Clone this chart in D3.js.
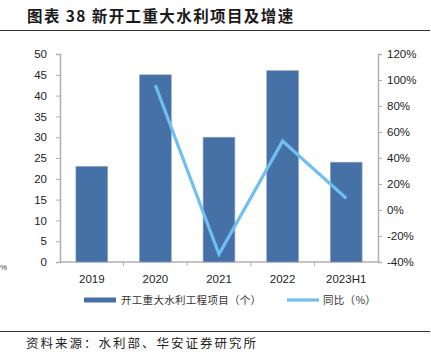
<!DOCTYPE html>
<html><head><meta charset="utf-8">
<script src="https://cdn.jsdelivr.net/npm/d3@7"></script>
<style>
html,body{margin:0;padding:0;background:#fff;}
svg{display:block;}
</style></head>
<body>
<script>
const categories = ["2019","2020","2021","2022","2023H1"];
const projects = [23, 45, 30, 46, 24];
const yoy = [null, 96, -34, 53, 9];
const leftTicks = [0,5,10,15,20,25,30,35,40,45,50];
const rightTicks = [-40,-20,0,20,40,60,80,100,120];
const title = "图表 38 新开工重大水利项目及增速";
const legendBar = "开工重大水利工程项目（个）";
const legendLine = "同比（%）";
const source = "资料来源：水利部、华安证券研究所";

(function(){
const W = 431, H = 363;
const svg = d3.select("body").append("svg").attr("width", W).attr("height", H);
const latin = "'Liberation Sans', Arial, sans-serif";
const cjk = "'Noto Sans CJK SC', sans-serif";

// Title
svg.append("text").attr("x", 27).attr("y", 22)
  .attr("font-family", cjk).attr("font-weight", "bold").attr("font-size", 15.5)
  .attr("letter-spacing", 1.4)
  .attr("fill", "#1a1a1a").text(title);
svg.append("line").attr("x1", 0).attr("x2", 430).attr("y1", 30.5).attr("y2", 30.5)
  .attr("stroke", "#333").attr("stroke-width", 1);

const pL = 60, pR = 378, pT = 54, pB = 262;
const x = d3.scaleBand().domain(categories).range([pL, pR]).paddingInner(0).paddingOuter(0);
const yL = d3.scaleLinear().domain([0, 50]).range([pB, pT]);
const yR = d3.scaleLinear().domain([-40, 120]).range([pB, pT]);
const axisColor = "#b0b0b0";

const gL = svg.append("g").attr("transform", `translate(${pL},0)`)
  .call(d3.axisLeft(yL).tickValues(leftTicks).tickSize(4).tickPadding(9));
const gR = svg.append("g").attr("transform", `translate(${pR},0)`)
  .call(d3.axisRight(yR).tickValues(rightTicks).tickSize(4).tickPadding(5).tickFormat(d => d + "%"));
const gB = svg.append("g").attr("transform", `translate(0,${pB})`)
  .call(d3.axisBottom(x).tickSize(0).tickPadding(13));
svg.append("g").selectAll("line").data(categories.slice(1)).join("line")
  .attr("x1", d => x(d)).attr("x2", d => x(d))
  .attr("y1", pB).attr("y2", pB + 4)
  .attr("stroke", axisColor);

[gL, gR, gB].forEach(g => {
  g.selectAll("path").attr("stroke", axisColor).attr("stroke-width", 1.5);
  g.selectAll(".tick line").attr("stroke", axisColor);
  g.selectAll("text").attr("font-family", latin).attr("font-size", 11.5).attr("fill", "#222");
});
gB.select("path").attr("d", `M${pL},0H${pR}`);

const bw = x.bandwidth() * 0.5;
svg.append("g").selectAll("rect").data(categories).join("rect")
  .attr("x", (d) => x(d) + (x.bandwidth() - bw) / 2)
  .attr("width", bw)
  .attr("y", (d, i) => yL(projects[i]))
  .attr("height", (d, i) => yL(0) - yL(projects[i]))
  .attr("fill", "#4671a7")
  .attr("stroke", "#8fa9cc").attr("stroke-width", 0.6);

const pts = categories.map((c, i) => ({c, v: yoy[i]})).filter(p => p.v !== null);
const line = d3.line().x(p => x(p.c) + x.bandwidth() / 2).y(p => yR(p.v));
svg.append("path").datum(pts).attr("d", line)
  .attr("fill", "none").attr("stroke", "#6ec0f2").attr("stroke-width", 3.2)
  .attr("stroke-linejoin", "miter");

const ly = 300;
svg.append("rect").attr("x", 84).attr("y", ly - 2.5).attr("width", 32).attr("height", 5).attr("fill", "#4671a7");
svg.append("text").attr("x", 121).attr("y", ly + 4).attr("font-family", cjk).attr("font-size", 10.5)
  .attr("letter-spacing", 0.3)
  .attr("fill", "#333").text(legendBar);
svg.append("line").attr("x1", 287).attr("x2", 319).attr("y1", ly).attr("y2", ly)
  .attr("stroke", "#6ec0f2").attr("stroke-width", 3.2);
svg.append("text").attr("x", 323).attr("y", ly + 4).attr("font-family", cjk).attr("font-size", 10.5)
  .attr("letter-spacing", 0.3)
  .attr("fill", "#333").text(legendLine);

svg.append("line").attr("x1", 0).attr("x2", 430).attr("y1", 331.5).attr("y2", 331.5)
  .attr("stroke", "#333").attr("stroke-width", 1);
svg.append("text").attr("x", 26).attr("y", 348).attr("font-family", cjk).attr("font-size", 12.5)
  .attr("letter-spacing", 2)
  .attr("fill", "#222").text(source);

svg.append("text").attr("x", 0).attr("y", 270).attr("font-family", latin).attr("font-size", 8)
  .attr("fill", "#444").text("%");
})();
</script>
</body></html>
